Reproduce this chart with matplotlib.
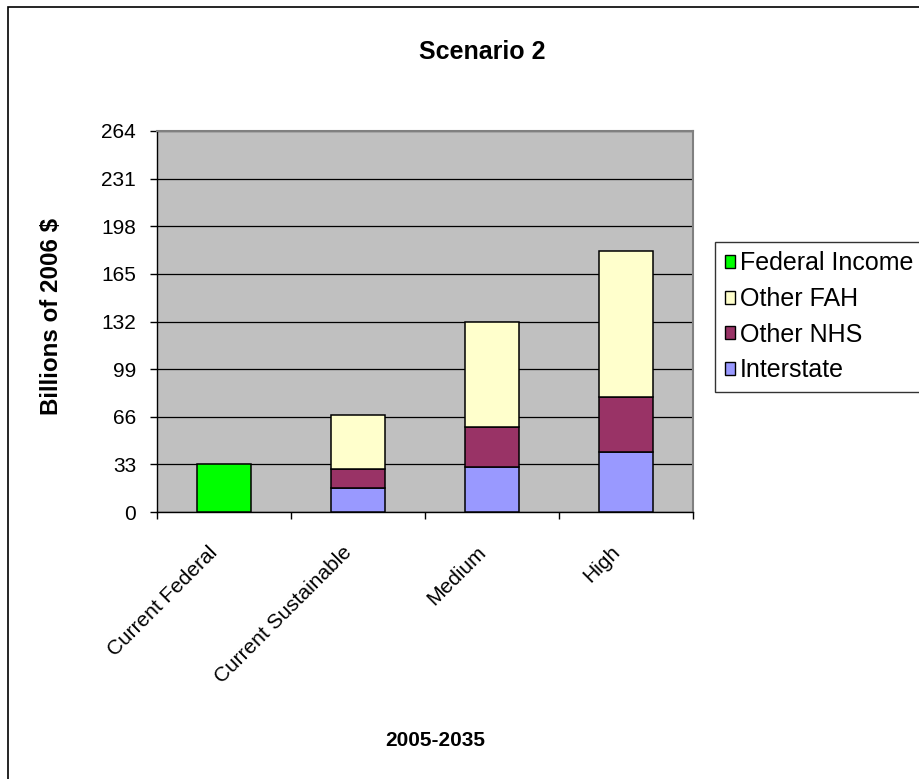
import matplotlib.pyplot as plt
import matplotlib.transforms as mtransforms
from matplotlib.patches import Rectangle, Patch
import numpy as np

plt.rcParams['font.family'] = ['Liberation Sans', 'DejaVu Sans']

# scenario categories and stacked spending components (billions of 2006 $)
categories = ["Current Federal", "Current Sustainable", "Medium", "High"]
federal_income = [33, 0, 0, 0]
interstate = [0, 16.5, 31.5, 41.5]
other_nhs = [0, 13.5, 27.5, 38]
other_fah = [0, 37, 73, 101.5]
yticks = [0, 33, 66, 99, 132, 165, 198, 231, 264]

fig = plt.figure(figsize=(9.19, 7.79), dpi=100)
ax = fig.add_axes([157/919, 1-512/779, 536/919, 381/779])
ax.set_facecolor('#C0C0C0')

x = np.arange(len(categories))
w = 0.4
edge = dict(edgecolor='black', linewidth=1.1, zorder=3)

ax.bar(x, federal_income, w, color='#00FF00', **edge)
ax.bar(x, interstate, w, color='#9999FF', **edge)
bottom = np.array(interstate)
ax.bar(x, other_nhs, w, bottom=bottom, color='#993366', **edge)
bottom = bottom + np.array(other_nhs)
ax.bar(x, other_fah, w, bottom=bottom, color='#FFFFCC', **edge)

# hide the zero-height segments for the federal column
for p in ax.patches:
    if p.get_height() == 0:
        p.set_visible(False)

ax.set_xlim(-0.5, len(categories) - 0.5)
ax.set_ylim(0, 264)
ax.set_yticks(yticks)
ax.set_yticklabels([str(v) for v in yticks], fontsize=15)
ax.yaxis.grid(True, color='black', linewidth=0.9, zorder=1)
ax.set_axisbelow(True)

# ticks sit between categories, labels under each column
ax.set_xticks(np.arange(-0.5, len(categories), 1.0))
ax.set_xticklabels([])
ax.set_xticks(x, minor=True)
ax.set_xticklabels(categories, minor=True, fontsize=15, rotation=45,
                   ha='right', va='top', rotation_mode='anchor')
ax.tick_params(axis='x', which='minor', length=0, pad=22)
ax.tick_params(axis='x', which='major', direction='out', length=5, width=1)
ax.tick_params(axis='y', direction='out', length=5, width=1, pad=10)
shift = mtransforms.ScaledTranslation(-16/100, 0, fig.dpi_scale_trans)
for lbl in ax.get_xticklabels(minor=True):
    lbl.set_transform(lbl.get_transform() + shift)

for s in ['left', 'bottom']:
    ax.spines[s].set_color('black')
    ax.spines[s].set_linewidth(1)
for s in ['top', 'right']:
    ax.spines[s].set_color('#808080')
    ax.spines[s].set_linewidth(1.5)

fig.text(482/919, 1-52/779, "Scenario 2", fontsize=18, fontweight='bold',
         ha='center', va='center')
fig.text(435/919, 1-740/779, "2005-2035", fontsize=15, fontweight='bold',
         ha='center', va='center')
fig.text(52/919, 1-316/779, "Billions of 2006 $", fontsize=17.4,
         fontweight='bold', rotation=90, ha='center', va='center')

handles = [Patch(facecolor='#00FF00', edgecolor='black'),
           Patch(facecolor='#FFFFCC', edgecolor='black'),
           Patch(facecolor='#993366', edgecolor='black'),
           Patch(facecolor='#9999FF', edgecolor='black')]
labels = ["Federal Income", "Other FAH", "Other NHS", "Interstate"]
leg = fig.legend(handles, labels, loc='upper left',
                 bbox_to_anchor=(715/919, 1-242/779), fontsize=18,
                 frameon=True, fancybox=False, borderaxespad=0,
                 handlelength=0.42, handleheight=0.42, handletextpad=0.2,
                 labelspacing=0.46, borderpad=0.38)
leg.get_frame().set_edgecolor('black')
leg.get_frame().set_linewidth(1)

# outer chart frame, running off the right and bottom edges
fig.patches.append(Rectangle((8/919, -0.1), 2, 1 - 7/779 + 0.1,
                             transform=fig.transFigure, fill=False,
                             edgecolor='black', linewidth=1.2))

fig.savefig('out.png', dpi=100)
